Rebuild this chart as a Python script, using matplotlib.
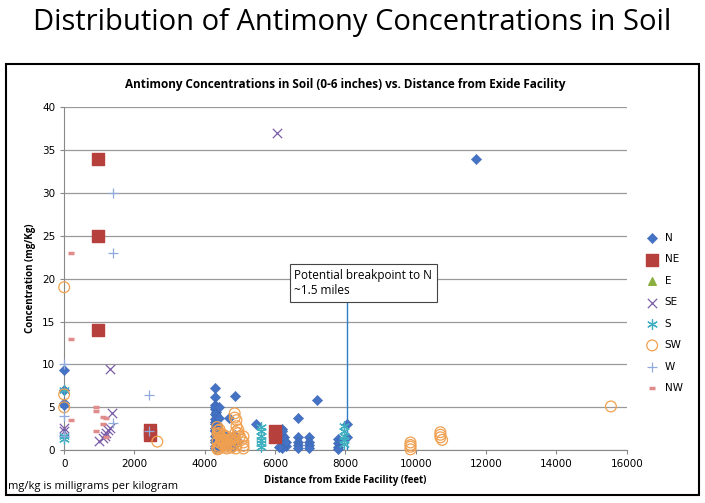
import matplotlib.pyplot as plt
from matplotlib.patches import Rectangle

# N (blue diamonds)
n_x = [0, 0, 0, 0, 4280, 4280, 4300, 4300, 4310, 4320, 4330, 4350, 4380, 4400, 4420, 4450, 4300, 4280, 4290,
       4300, 4310, 4320, 4340, 4360, 4400, 4450, 4500, 4550, 4600, 4650, 4700, 4750, 4800, 4850, 4900, 4950,
       4700, 4860, 5450, 6200, 6200, 6150, 6250, 6300, 6200, 6250, 6150, 6650, 6650, 6650, 6650, 6650,
       6950, 6950, 6950, 6950, 7200, 7800, 7800, 7800, 7800, 8050, 8050, 11700, 4300, 4320,
       4290, 4290, 4290, 4290, 4290, 4300, 4300, 4300, 4300, 4400, 4400, 4500, 4500, 6100, 6300, 6200]
n_y = [9.4, 7.0, 5.5, 5.3, 7.3, 6.2, 5.3, 4.8, 4.5, 3.8, 3.5, 3.0, 2.5, 2.0, 1.5, 1.0, 0.5, 0.3, 1.2,
       2.2, 2.8, 1.8, 1.0, 0.6, 0.4, 0.8, 1.2, 0.5, 0.9, 1.5, 0.6, 1.0, 0.4, 1.8, 0.7, 1.1,
       3.8, 6.3, 3.1, 2.5, 1.8, 1.2, 0.8, 0.5, 0.3, 1.5, 2.0, 3.8, 1.5, 1.0, 0.6, 0.2,
       1.5, 1.0, 0.6, 0.2, 5.8, 1.3, 0.8, 0.4, 0.1, 3.1, 1.5, 34.0, 5.0, 4.1,
       4.2, 3.3, 2.6, 1.6, 0.9, 0.2, 3.6, 3.1, 2.4, 3.8, 5.0, 2.0, 1.4, 0.4, 1.0, 2.2]
# NE (red squares)
ne_x = [950, 950, 950, 2450, 2450, 6000, 6000]
ne_y = [34.0, 25.0, 14.0, 2.3, 1.8, 2.2, 1.5]
# SE (x)
se_x = [6050, 0, 0, 1300, 1350, 1000, 1100, 1150, 1200, 1250, 1300]
se_y = [37.0, 2.6, 2.2, 9.5, 4.3, 1.1, 1.4, 1.7, 2.0, 2.4, 2.6]
# S (asterisk, teal)
s_x = [0, 0, 0, 5600, 5600, 5600, 5600, 5600, 5600, 7950, 7950, 7950, 7950, 7950]
s_y = [7.0, 1.7, 1.3, 2.7, 2.2, 1.7, 1.2, 0.8, 0.4, 2.8, 2.2, 1.6, 1.2, 0.7]
# SW (orange circles)
sw_x = [0, 0, 0, 2650, 4850, 4850, 4900, 4900, 4950, 4950, 5000, 5050, 5100, 5100,
        4350, 4380, 4400, 4420, 4450, 4480, 4500, 4550, 4600, 4650, 4700, 4750, 4800,
        4350, 4400, 4450, 4500, 4550, 4600, 4650, 4700, 4750, 4800, 4850, 4900,
        4360, 4360, 4360, 4420, 4420, 4520, 4520, 4620, 4620, 4880, 4880, 4880, 5100, 5100,
        9850, 9850, 9850, 9850, 10700, 10700, 10700, 10750, 15550]
sw_y = [19.0, 6.5, 5.0, 1.0, 4.3, 3.8, 3.5, 2.8, 2.4, 2.0, 1.6, 1.2, 0.9, 0.5,
        2.7, 2.3, 2.0, 1.8, 1.5, 1.2, 1.0, 0.8, 0.6, 1.1, 0.7, 1.3, 0.5,
        0.3, 0.5, 0.8, 1.4, 1.7, 0.4, 0.9, 1.2, 0.3, 0.8, 1.5, 0.6,
        1.9, 1.0, 0.1, 2.4, 0.2, 0.6, 1.8, 0.2, 1.6, 2.1, 1.1, 0.2, 1.6, 0.2,
        0.9, 0.6, 0.4, 0.1, 2.1, 1.8, 1.5, 1.2, 5.1]
# W (plus)
w_x = [0, 0, 1400, 1400, 1400, 2400, 2400, 0]
w_y = [10.0, 4.0, 30.0, 23.0, 3.2, 6.4, 2.2, 1.7]
# NW (dash)
nw_x = [200, 200, 200, 900, 900, 900, 1100, 1100, 1200, 1200]
nw_y = [23.0, 13.0, 3.5, 5.0, 4.6, 2.2, 3.9, 3.0, 3.8, 1.5]

fig = plt.figure(figsize=(7.05, 5.03), dpi=100)
fig.text(0.5, 0.955, 'Distribution of Antimony Concentrations in Soil', ha='center', va='center',
         fontsize=21, family='Open Sans')
fig.patches.append(Rectangle((0.008, 0.015), 0.984, 0.857, transform=fig.transFigure,
                             fill=False, lw=1.5, ec='black'))
fig.text(0.012, 0.028, 'mg/kg is milligrams per kilogram', fontsize=8, family='Open Sans')

ax = fig.add_axes([0.091, 0.105, 0.798, 0.682])
ax.set_title('Antimony Concentrations in Soil (0-6 inches) vs. Distance from Exide Facility',
             fontsize=8.5, fontweight='bold', family='Open Sans', pad=14)
kw = dict(zorder=3, clip_on=False)
ax.scatter(n_x, n_y, marker='D', s=28, c='#4472c4', label='N', edgecolors='#3a63ad', lw=0.3, **kw)
ax.scatter(ne_x, ne_y, marker='s', s=65, c='#b5403c', label='NE', **kw)
ax.scatter([], [], marker='^', s=30, c='#8bb041', label='E')
ax.scatter(se_x, se_y, marker='x', s=45, c='#7b5ea7', lw=0.9, label='SE', **kw)
ax.scatter(s_x, s_y, marker=(6, 2, 0), s=50, c='#3fb0c0', lw=0.9, label='S', **kw)
ax.scatter(sw_x, sw_y, marker='o', s=60, facecolors='none', edgecolors='#f0a050', lw=0.9, label='SW', **kw)
ax.scatter(w_x, w_y, marker='+', s=55, c='#90aadc', lw=0.9, label='W', **kw)
ax.scatter(nw_x, nw_y, marker='_', s=25, c='#e08c8c', lw=2.5, label='NW', **kw)

ax.axvline(8050, ymax=19 / 40, color='#2e7dc8', lw=1, zorder=2)
ax.text(6550, 18.2, 'Potential breakpoint to N\n~1.5 miles', fontsize=8.5, family='Open Sans',
        bbox=dict(boxstyle='square,pad=0.4', fc='white', ec='#444444', lw=0.8), zorder=4)

ax.set_xlim(0, 16000)
ax.set_ylim(0, 40)
ax.set_xticks(range(0, 16001, 2000))
ax.set_yticks(range(0, 41, 5))
ax.grid(axis='y', color='#999999', lw=0.9)
ax.set_axisbelow(True)
for sp in ['top', 'right']:
    ax.spines[sp].set_visible(False)
for sp in ['left', 'bottom']:
    ax.spines[sp].set_color('#888888')
ax.tick_params(labelsize=7.5, color='#888888', length=3)
ax.set_xlabel('Distance from Exide Facility (feet)', fontsize=7, fontweight='bold', family='Open Sans')
ax.set_ylabel('Concentration (mg/Kg)', fontsize=7, fontweight='bold', family='Open Sans')
ax.legend(loc='center left', bbox_to_anchor=(1.01, 0.4), frameon=False, fontsize=7.5,
          handletextpad=0.2, labelspacing=1.1)

fig.savefig('out.png', dpi=100)
